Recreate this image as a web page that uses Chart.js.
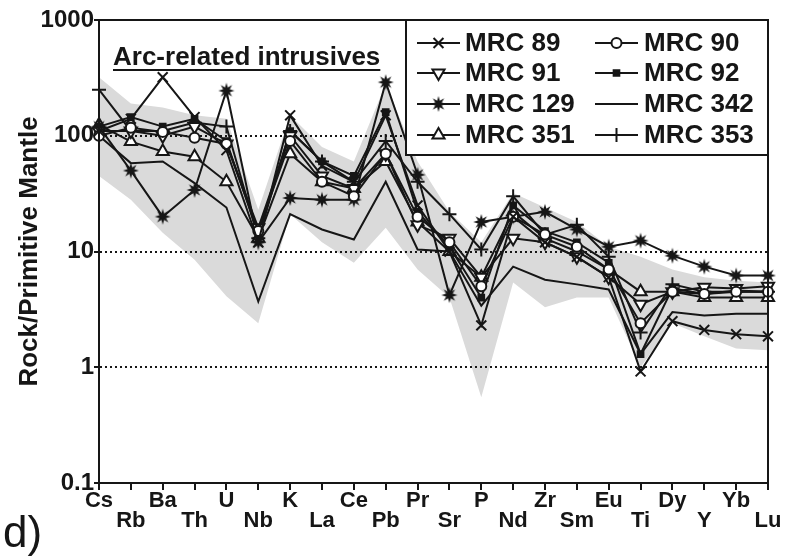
<!DOCTYPE html>
<html>
<head>
<meta charset="utf-8">
<script src="https://cdn.jsdelivr.net/npm/chart.js@4.4.1/dist/chart.umd.min.js"></script>
<style>
  html, body { margin: 0; padding: 0; background: #fff; }
  #wrap { width: 786px; height: 557px; position: relative; }
</style>
</head>
<body>
<div id="wrap"><canvas id="spider"></canvas></div>
<script>
const elements = ["Cs", "Rb", "Ba", "Th", "U", "Nb", "K", "La", "Ce", "Pb", "Pr",
  "Sr", "P", "Nd", "Zr", "Sm", "Eu", "Ti", "Dy", "Y", "Yb", "Lu"];

const mrc89  = [110, 140, 320, 145, 75, 12, 150, 55, 40, 150, 25, 10, 2.3, 20, 12, 9, 6, 0.92, 2.5, 2.1, 1.93, 1.85];
const mrc90  = [100, 117, 108, 96, 85, 15, 90, 40, 30, 70, 20, 12, 5, 20, 14, 11, 7, 2.4, 4.5, 4.3, 4.5, 4.5];
const mrc91  = [110, 110, 100, 120, 85, 16, 100, 45, 35, 70, 17, 13, 6, 13, 12, 9, 6, 3.5, 4.5, 4.9, 4.8, 5];
const mrc92  = [120, 145, 120, 140, 90, 14, 110, 60, 45, 160, 22, 11, 4, 25, 15, 12, 8, 1.3, 4.8, 4.3, 4.6, 4.5];
const mrc129 = [120, 50, 20, 34, 245, 12, 29, 28, 28, 290, 46, 4.2, 18, 20, 22, 15.5, 11, 12.4, 9.2, 7.4, 6.2, 6.2];
const mrc342 = [100, 58, 60, 39, 24, 3.7, 21, 15.5, 12.7, 40, 10.4, 10, 3.4, 7.4, 5.7, 5.2, 4.7, 1.3, 3, 2.8, 2.9, 2.9];
const mrc351 = [124, 89, 73, 66, 40, 13, 70, 40, 35, 60, 18, 10, 6, 22, 13, 10, 7, 4.5, 4.5, 4, 4, 4];
const mrc353 = [250, 110, 110, 130, 120, 13, 110, 60, 40, 90, 40, 21, 10.4, 30, 14, 17, 9, 2, 5.2, 4.5, 4.5, 4.5];

// shaded field of arc-related intrusives
const fieldHi = [320, 190, 175, 150, 140, 23, 150, 80, 60, 280, 60, 22, 12, 32, 24, 18, 11, 9, 7, 6, 5.6, 5.4];
const fieldLo = [45, 28, 14.5, 8.5, 4.1, 2.4, 21, 12, 8, 16, 7, 4, 0.55, 5.4, 3.3, 4, 4, 1.0, 2.4, 1.85, 1.45, 1.4];

const yTicks = [0.1, 1, 10, 100, 1000];

const INK = "#161616";
const FONT = "'Liberation Sans', Arial, sans-serif";

// filled burst marker for MRC 129
function burst(r) {
  const c = document.createElement("canvas");
  c.width = c.height = 2 * r + 2;
  const g = c.getContext("2d");
  const cx = r + 1, n = 8;
  g.beginPath();
  for (let i = 0; i < 2 * n; i++) {
    const a = (Math.PI * i) / n - Math.PI / 2;
    const rr = i % 2 === 0 ? r : r * 0.45;
    g.lineTo(cx + rr * Math.cos(a), cx + rr * Math.sin(a));
  }
  g.closePath();
  g.fillStyle = INK;
  g.fill();
  return c;
}
const star = burst(8);

const series = [
  { label: "MRC 89", data: mrc89, pointStyle: "crossRot", pointRadius: 7, fill: INK },
  { label: "MRC 90", data: mrc90, pointStyle: "circle", pointRadius: 5, fill: "#fff" },
  { label: "MRC 91", data: mrc91, pointStyle: "triangle", pointRadius: 7, rot: 180, fill: "#fff" },
  { label: "MRC 92", data: mrc92, pointStyle: "rect", pointRadius: 4, fill: INK },
  { label: "MRC 129", data: mrc129, pointStyle: star, pointRadius: 8, fill: INK },
  { label: "MRC 342", data: mrc342, pointStyle: false, pointRadius: 0, fill: INK },
  { label: "MRC 351", data: mrc351, pointStyle: "triangle", pointRadius: 7, fill: "#fff" },
  { label: "MRC 353", data: mrc353, pointStyle: "cross", pointRadius: 7, fill: INK },
];

const datasets = [
  { label: "field", data: fieldHi, fill: 1, backgroundColor: "#dadada", borderWidth: 0, pointRadius: 0 },
  { label: "fieldLo", data: fieldLo, fill: false, borderWidth: 0, pointRadius: 0 },
].concat(series.map((s) => ({
  label: s.label,
  data: s.data,
  borderColor: INK,
  borderWidth: 2,
  tension: 0,
  fill: false,
  pointStyle: s.pointStyle,
  pointRadius: s.pointRadius,
  pointRotation: s.rot || 0,
  pointBackgroundColor: s.fill,
  pointBorderColor: INK,
  pointBorderWidth: 2,
})));

const extras = {
  id: "extras",
  afterDraw(chart) {
    const ctx = chart.ctx;
    const a = chart.chartArea;
    ctx.save();

    // frame
    ctx.strokeStyle = INK;
    ctx.lineWidth = 2;
    ctx.setLineDash([]);
    ctx.strokeRect(a.left, a.top, a.right - a.left, a.bottom - a.top);

    // title with underline
    ctx.fillStyle = INK;
    ctx.font = "bold 26px " + FONT;
    ctx.textBaseline = "alphabetic";
    ctx.textAlign = "left";
    const t = "Arc-related intrusives";
    ctx.fillText(t, 113, 65);
    const w = ctx.measureText(t).width;
    ctx.beginPath();
    ctx.moveTo(113, 70);
    ctx.lineTo(113 + w, 70);
    ctx.stroke();

    // panel letter
    ctx.font = "44px " + FONT;
    ctx.fillText("d)", 3, 547);

    // legend
    const bx = 406, by = a.top, bw = a.right - 406, bh = 135;
    ctx.fillStyle = "#fff";
    ctx.fillRect(bx, by, bw, bh);
    ctx.strokeRect(bx, by, bw, bh);
    const rows = [43, 73, 104, 135];
    const cols = [{ x1: 417, x2: 460, tx: 465 }, { x1: 595, x2: 638, tx: 644 }];
    ctx.font = "bold 26px " + FONT;
    ctx.textBaseline = "middle";
    series.forEach((s, i) => {
      const c = cols[i % 2], y = rows[Math.floor(i / 2)];
      ctx.strokeStyle = INK;
      ctx.lineWidth = 2;
      ctx.beginPath();
      ctx.moveTo(c.x1, y);
      ctx.lineTo(c.x2, y);
      ctx.stroke();
      if (s.pointStyle) {
        ctx.fillStyle = s.fill;
        Chart.helpers.drawPoint(ctx, {
          pointStyle: s.pointStyle,
          radius: s.pointRadius,
          rotation: s.rot || 0,
          borderWidth: 2,
        }, (c.x1 + c.x2) / 2, y);
      }
      ctx.fillStyle = INK;
      ctx.fillText(s.label, c.tx, y + 1);
    });
    ctx.restore();
  },
};

new Chart(document.getElementById("spider"), {
  type: "line",
  data: { labels: elements, datasets: datasets },
  plugins: [extras],
  options: {
    responsive: true,
    maintainAspectRatio: false,
    animation: false,
    layout: { padding: { top: 20, right: 18, left: 0, bottom: 0 } },
    plugins: {
      legend: { display: false },
      tooltip: { enabled: false },
      filler: { drawTime: "beforeDraw" },
    },
    scales: {
      x: {
        type: "category",
        offset: false,
        afterFit: (s) => { s.height = 74; },
        grid: { drawOnChartArea: false, drawTicks: true, tickLength: 7, color: INK, lineWidth: 2 },
        border: { display: true, color: INK, width: 2 },
        ticks: {
          autoSkip: false,
          maxRotation: 0,
          padding: 0,
          color: INK,
          font: { family: FONT, size: 22, weight: "bold", lineHeight: 0.95 },
          callback: function (val, i) {
            const l = this.getLabelForValue(val);
            return i % 2 === 0 ? [l, ""] : ["", l];
          },
        },
      },
      y: {
        type: "logarithmic",
        min: 0.1,
        max: 1000,
        afterFit: (s) => { s.width = 99; },
        afterBuildTicks: (s) => { s.ticks = yTicks.map((v) => ({ value: v })); },
        grid: {
          drawTicks: true,
          tickLength: 5,
          tickColor: INK,
          lineWidth: 2,
          color: (c) => (c.tick && (c.tick.value === 0.1 || c.tick.value === 1000) ? "rgba(0,0,0,0)" : INK),
        },
        border: { display: true, color: INK, width: 2, dash: [2, 3] },
        ticks: {
          padding: 0,
          color: INK,
          font: { family: FONT, size: 24, weight: "bold" },
          callback: (v) => (v === 0.1 ? "0.1" : String(v)),
        },
        title: {
          display: true,
          text: "Rock/Primitive Mantle",
          color: INK,
          font: { family: FONT, size: 26, weight: "bold" },
          padding: { top: 14, bottom: 0 },
        },
      },
    },
  },
});
</script>
</body>
</html>
